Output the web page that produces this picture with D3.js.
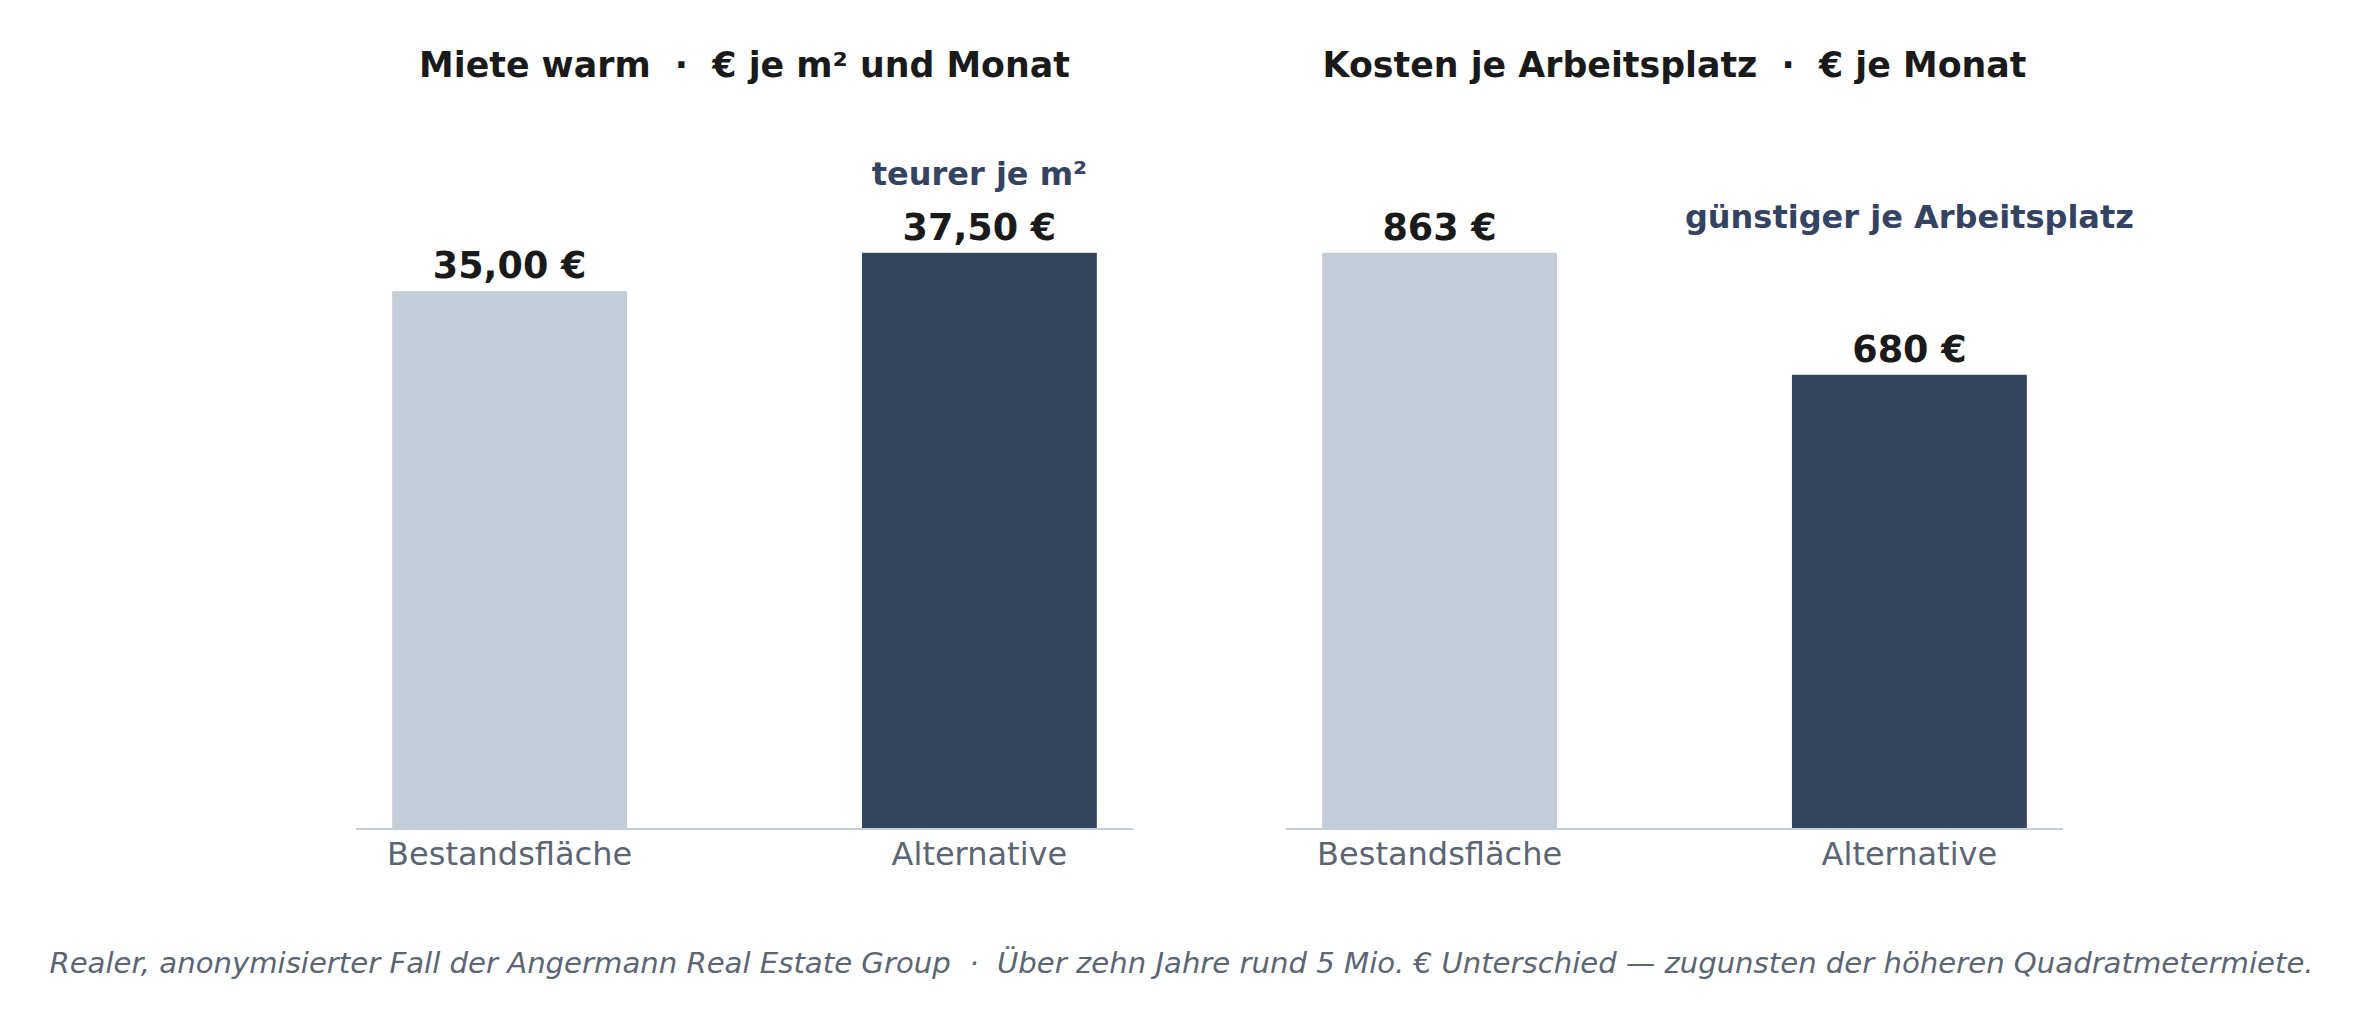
<!DOCTYPE html>
<html>
<head>
<meta charset="utf-8">
<script src="https://cdn.jsdelivr.net/npm/d3@7"></script>
<style>
  body { margin: 0; background: #fff; }
  text { font-family: "DejaVu Sans", sans-serif; white-space: pre; }
</style>
</head>
<body>
<svg width="2363" height="1028"></svg>
<script>
// data
var categories = ['Bestandsfläche', 'Alternative'];
var mieteValues = [35.00, 37.50];
var kostenValues = [863, 680];
var panelTitles = ['Miete warm  ·  € je m² und Monat', 'Kosten je Arbeitsplatz  ·  € je Monat'];
var annotTexts = ['teurer je m²', 'günstiger je Arbeitsplatz'];
var annotValues = [41.9, 900];   // Hoehe der Anmerkung in Dateneinheiten
var footerText = 'Realer, anonymisierter Fall der Angermann Real Estate Group  ·  Über zehn Jahre rund 5 Mio. € Unterschied — zugunsten der höheren Quadratmetermiete.';

var barColors = ['#c3cdd8', '#33445d'];

var svg = d3.select('svg');
var width = +svg.attr('width');

var baseY = 828;
var plotTop = 109;
var panelX = [[356, 1133], [1286, 2063]];

function fmtMiete(v) { return d3.format('.2f')(v).replace('.', ',') + ' €'; }
function fmtKosten(v) { return d3.format('d')(v) + ' €'; }

var panels = [
  { values: mieteValues, fmt: fmtMiete },
  { values: kostenValues, fmt: fmtKosten }
];

panels.forEach(function(p, i) {
  var x = d3.scaleBand()
      .domain(categories)
      .range(panelX[i])
      .paddingInner(0.5)
      .paddingOuter(0.077);

  var y = d3.scaleLinear()
      .domain([0, d3.max(p.values) * 1.25])   // etwas Luft nach oben
      .range([baseY, plotTop]);

  var g = svg.append('g');

  // balken
  g.selectAll('rect.bar')
      .data(p.values)
      .enter()
      .append('rect')
      .attr('class', 'bar')
      .attr('x', function(d, j) { return x(categories[j]); })
      .attr('y', function(d) { return y(d); })
      .attr('width', x.bandwidth())
      .attr('height', function(d) { return y(0) - y(d); })
      .attr('fill', function(d, j) { return barColors[j]; });

  // grundlinie
  g.append('line')
      .attr('x1', panelX[i][0])
      .attr('x2', panelX[i][1])
      .attr('y1', baseY + 1)
      .attr('y2', baseY + 1)
      .attr('stroke', '#c3cdd8')
      .attr('stroke-width', 2);

  // werte ueber den balken
  g.selectAll('text.val')
      .data(p.values)
      .enter()
      .append('text')
      .attr('class', 'val')
      .attr('x', function(d, j) { return x(categories[j]) + x.bandwidth() / 2; })
      .attr('y', function(d) { return y(d) - 13; })
      .attr('text-anchor', 'middle')
      .attr('font-size', 36.5)
      .attr('font-weight', 'bold')
      .attr('fill', '#1a1a1a')
      .text(function(d) { return p.fmt(d); });

  // kategorien
  g.selectAll('text.cat')
      .data(categories)
      .enter()
      .append('text')
      .attr('class', 'cat')
      .attr('x', function(d) { return x(d) + x.bandwidth() / 2; })
      .attr('y', 865)
      .attr('text-anchor', 'middle')
      .attr('font-size', 32)
      .attr('fill', '#5b6573')
      .text(function(d) { return d; });

  // anmerkung ueber der alternative
  g.append('text')
      .attr('x', x(categories[1]) + x.bandwidth() / 2)
      .attr('y', y(annotValues[i]))
      .attr('text-anchor', 'middle')
      .attr('font-size', 32)
      .attr('font-weight', 'bold')
      .attr('fill', '#334361')
      .text(annotTexts[i]);

  // titel
  g.append('text')
      .attr('x', (panelX[i][0] + panelX[i][1]) / 2)
      .attr('y', 77)
      .attr('text-anchor', 'middle')
      .attr('font-size', 34.8)
      .attr('font-weight', 'bold')
      .attr('fill', '#1a1a1a')
      .text(panelTitles[i]);
});

svg.append('text')
    .attr('x', width / 2)
    .attr('y', 973)
    .attr('text-anchor', 'middle')
    .attr('font-size', 29.15)
    .attr('font-style', 'italic')
    .attr('fill', '#5b6573')
    .text(footerText);
</script>
</body>
</html>
